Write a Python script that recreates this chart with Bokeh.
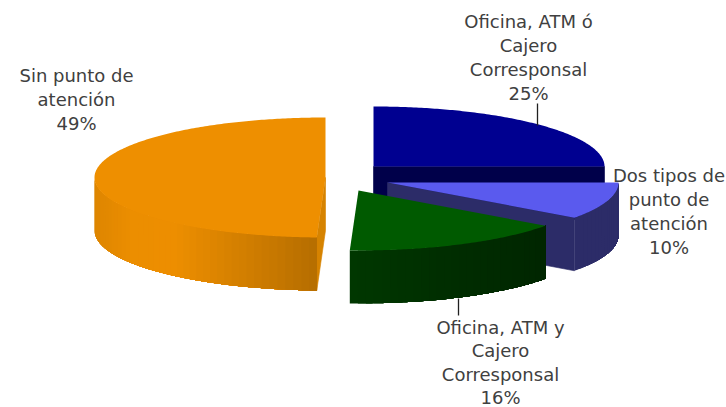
import math
from bokeh.plotting import figure
from bokeh.models import Range1d
from bokeh.core.properties import value
from bokeh.embed import file_html
from bokeh.resources import INLINE

# ---- chart data ----
categories = ["Oficina, ATM ó Cajero Corresponsal", "Dos tipos de punto de atención",
              "Oficina, ATM y Cajero Corresponsal", "Sin punto de atención"]
shares = [25.0, 10.0, 15.6, 49.4]
label_lines = [["Oficina, ATM ó", "Cajero", "Corresponsal"],
               ["Dos tipos de", "punto de", "atención"],
               ["Oficina, ATM y", "Cajero", "Corresponsal"],
               ["Sin punto de", "atención"]]

# ---- styling / geometry (page pixels) ----
centres = [(373, 166), (387, 182), (358, 190), (325, 177)]
RX, RY, DEPTH = 231, 60, 53
top_cols = ["#000090", "#5a5aee", "#005a00", "#ee8f00"]
cut_cols = ["#00004a", "#2c2c68", "#003000", "#d68300"]
# wall colour stops: (screen x, rgb)
wall_stops = [
    [(373, (0, 0, 74)), (604, (0, 0, 74))],
    [(574, (44, 44, 104)), (618, (44, 44, 104))],
    [(350, (0, 56, 0)), (450, (0, 46, 0)), (545, (0, 38, 0))],
    [(94, (222, 134, 0)), (130, (236, 142, 0)), (173, (238, 143, 0)), (317, (182, 110, 0))],
]
label_x = [528, 668.5, 500, 76]
label_y0 = [21, 175, 327, 75]
label_lh = [24, 24, 23.4, 24]
TEXT = "#404040"
FONT = "DejaVu Sans"
FS = "18px"

p = figure(width=726, height=407, output_backend="svg", toolbar_location=None,
           x_range=Range1d(0, 726), y_range=Range1d(407, 0),
           min_border=0, outline_line_color=None, background_fill_color="white")
p.axis.visible = False
p.grid.visible = False

def pt(c, a, dz=0):
    r = math.radians(a)
    return c[0] + RX * math.sin(r), c[1] - RY * math.cos(r) + dz

def arc(c, a0, a1, dz=0):
    n = max(2, int(abs(a1 - a0) * 1.5))
    return [pt(c, a0 + (a1 - a0) * i / n, dz) for i in range(n + 1)]

spans = []
acc = 0.0
for s in shares:
    spans.append((acc, acc + s * 3.6))
    acc += s * 3.6

def wall_colour(i, x):
    st = wall_stops[i]
    if x <= st[0][0]:
        return st[0][1]
    for (x0, c0), (x1, c1) in zip(st, st[1:]):
        if x <= x1:
            t = (x - x0) / (x1 - x0)
            return tuple(int(c0[k] + (c1[k] - c0[k]) * t) for k in range(3))
    return st[-1][1]

def hexc(c):
    return "#%02x%02x%02x" % c

def draw_slice(i):
    c = centres[i]
    a0, a1 = spans[i]
    # cut faces turned to the viewer, under the wall and the top
    for a, vis in ((a0, i == 3), (a1, a1 <= 180.01)):
        if vis:
            e = pt(c, a)
            p.patch([c[0], e[0], e[0], c[0]], [c[1], e[1], e[1] + DEPTH, c[1] + DEPTH],
                    fill_color=cut_cols[i], line_color=cut_cols[i], line_width=0.6)
    # outer wall, front half only: bands overlap, so no seams show
    lo, hi = (a0 if i == 3 else max(a0, 90)), min(a1, 270)
    a = hi
    while a > lo + 1e-6:
        b = max(lo, a - 2.0)
        top = arc(c, lo, a)
        xs = [q[0] for q in top] + [q[0] for q in reversed(top)]
        ys = [q[1] for q in top] + [q[1] + DEPTH for q in reversed(top)]
        xm = pt(c, (a + b) / 2)[0]
        p.patch(xs, ys, fill_color=hexc(wall_colour(i, xm)), line_color=None)
        a = b
    # top face
    rim = arc(c, a0, a1)
    p.patch([c[0]] + [q[0] for q in rim], [c[1]] + [q[1] for q in rim],
            fill_color=top_cols[i], line_color=None)

for i in [0, 1, 3, 2]:
    draw_slice(i)

# leader lines
p.line([537, 537], [103, 125], line_color="#202020", line_width=1.3)
p.line([458, 458], [298, 315], line_color="#202020", line_width=1.3)

# labels
for i, lines in enumerate(label_lines):
    rows = lines + ["%d%%" % round(shares[i])]
    for k, t in enumerate(rows):
        p.text([label_x[i]], [label_y0[i] + k * label_lh[i]], text=[t], text_align="center",
               text_baseline="middle", text_color=TEXT,
               text_font=value(FONT), text_font_size=FS)

open("out.html", "w").write(file_html(p, INLINE))
